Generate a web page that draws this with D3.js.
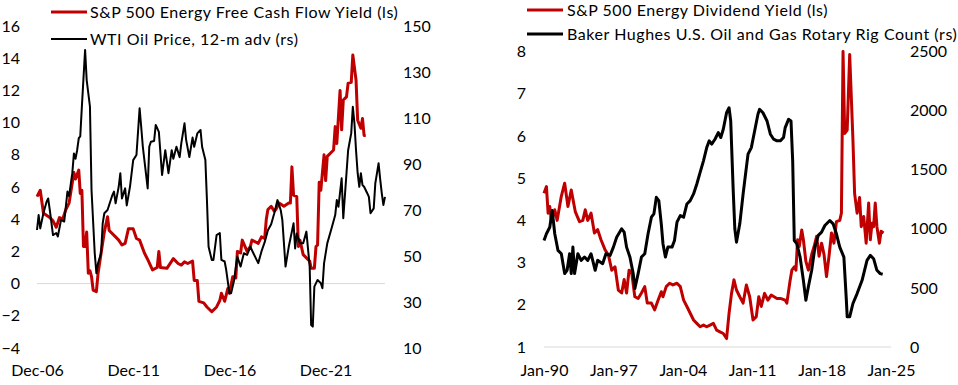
<!DOCTYPE html>
<html><head><meta charset="utf-8">
<script src="https://cdn.jsdelivr.net/npm/d3@7"></script>
<style>
body{margin:0;background:#fff}
svg text{font-family:Lato,"Open Sans",sans-serif;font-size:16px;fill:#000}
svg text.legend{letter-spacing:0.55px}
</style>
</head><body><svg id="c" width="958" height="385"></svg>
<script>
// ---------- Left panel data ----------
const fcfDates=["2006-12","2007-02","2007-04","2007-05","2007-08","2007-10","2007-12","2008-02","2008-04","2008-06",
"2008-08","2008-11","2008-12","2009-02","2009-03","2009-04","2009-05","2009-06","2009-07","2009-08",
"2009-09","2009-10","2009-11","2010-01","2010-02","2010-04","2010-06","2010-08","2010-09","2011-01",
"2011-03","2011-05","2011-07","2011-09","2011-12","2012-02","2012-04","2012-07","2012-09","2012-12",
"2013-03","2013-04","2013-05","2013-09","2014-01","2014-04","2014-06","2014-08","2014-10","2015-01",
"2015-02","2015-04","2015-05","2015-08","2015-10","2016-01","2016-04","2016-06","2016-07","2016-09",
"2016-11","2016-12","2017-02","2017-04","2017-05","2017-07","2017-08","2017-11","2018-01","2018-02",
"2018-06","2018-08","2018-10","2018-11","2018-12","2019-02","2019-04","2019-05","2019-07","2019-10",
"2020-01","2020-02","2020-03","2020-04","2020-06","2020-07","2020-08","2020-10","2020-12","2021-02",
"2021-03","2021-05","2021-06","2021-07","2021-08","2021-09","2021-11","2021-12","2022-01","2022-03",
"2022-05","2022-06","2022-07","2022-09","2022-10","2022-11","2023-01","2023-02","2023-04","2023-05",
"2023-07","2023-08","2023-10","2023-11","2023-12","2024-01"];
const fcfValues=[5.4,5.8,4.4,4.3,4.1,3.9,3.5,4.1,4.0,4.6,
5.0,6.9,6.5,7.05,5.6,5.8,2.3,2.3,3.2,0.65,
0.8,0.43,-0.4,-0.5,0.6,1.9,3.2,4.15,3.3,2.9,
2.7,2.4,2.5,3.4,3.4,2.8,2.7,1.9,1.5,0.85,
1.0,2.0,1.0,0.95,1.55,1.25,1.15,1.35,1.25,1.4,
0.2,0.2,-1.1,-1.2,-1.45,-1.75,-1.45,-1.05,-0.6,-1.1,
-0.3,-0.6,0.43,0.35,2.0,1.9,2.7,2.0,2.3,2.7,
2.5,2.9,2.8,4.0,4.6,4.8,4.5,4.6,5.0,4.8,
5.0,5.0,7.25,5.5,5.4,2.3,2.7,1.8,1.6,1.4,
0.95,0.95,2.3,2.4,6.3,5.8,8.0,6.4,7.9,8.1,
8.3,9.75,8.7,12.0,9.55,11.4,11.6,12.45,12.5,14.2,
12.65,10.15,9.65,10.25,9.2,9.2];

const wtiDates=["2006-12","2007-01","2007-02","2007-04","2007-06","2007-07","2007-08","2007-10","2007-12","2008-01",
"2008-03","2008-05","2008-07","2008-08","2008-10","2008-11","2008-12","2009-01","2009-02","2009-03",
"2009-04","2009-06","2009-07","2009-09","2009-10","2009-12","2010-01","2010-02","2010-04","2010-05",
"2010-06","2010-08","2010-11","2010-12","2011-01","2011-03","2011-04","2011-05","2011-07","2011-08",
"2011-10","2011-12","2012-02","2012-04","2012-05","2012-06","2012-09","2012-10","2012-11","2013-01",
"2013-02","2013-04","2013-06","2013-08","2013-10","2013-12","2014-01","2014-03","2014-05","2014-06",
"2014-08","2014-09","2014-11","2015-01","2015-02","2015-04","2015-06","2015-07","2015-09","2015-10",
"2015-11","2016-01","2016-02","2016-04","2016-06","2016-07","2016-09","2016-10","2016-12","2017-01",
"2017-03","2017-04","2017-05","2017-07","2017-09","2017-11","2018-01","2018-03","2018-05","2018-06",
"2018-08","2018-10","2018-12","2019-02","2019-04","2019-06","2019-08","2019-09","2019-11","2020-01",
"2020-04","2020-05","2020-06","2020-08","2020-10","2020-12","2021-02","2021-03","2021-04","2021-05",
"2021-07","2021-09","2021-10","2021-11","2022-01","2022-04","2022-06","2022-07","2022-08","2022-10",
"2022-11","2023-01","2023-02","2023-04","2023-05","2023-06","2023-07","2023-08","2023-09","2023-10",
"2023-11","2023-12","2024-02","2024-03","2024-04","2024-06","2024-07","2024-09","2024-10","2024-11",
"2024-12","2025-01"];
const wtiValues=[61.3,67.8,62.0,68.6,73.6,75,70,59.1,60,58.5,
65.7,65,78,76,86,94.6,92.3,96,101.2,102,
115,139.6,126.5,115,78.7,51.2,42.5,46.8,51.2,64.2,
68.6,70,76.5,78,72.9,80.1,86,75,79.4,72,
80.1,91.7,93.9,114.2,106.2,97.5,79.4,97.5,99.7,100,
107,104,85.2,96,86,96,92.3,97.5,93,99,
107.7,100.5,93,101.5,97.5,103.3,104.8,97.5,91.7,74.3,
54,48.3,48.3,59.1,60,48.3,47.6,43.9,33.8,33.8,
39.6,45.4,49.7,45.4,51.2,50.5,54,51.2,48.3,46.9,
52,56,61.2,63.8,68.6,74.3,70,65.7,45.4,54,
64.2,53.3,59.8,55.5,55.5,60.6,45.4,20,19.3,36.7,
39.6,38.2,36,46.8,55.5,62.7,67.8,74.3,71.4,83.8,
66.4,86,96,103.4,114.9,107.7,96,86,80.1,86,
80.8,80.1,77.2,75.7,68.6,70.7,81.6,90.3,83.5,77.2,
72.2,75.7];

// ---------- Right panel data ----------
const divDates=["1990-01","1990-04","1990-06","1990-08","1990-10","1991-02","1991-05","1991-10","1992-02","1992-06",
"1992-10","1993-03","1993-08","1993-12","1994-03","1994-06","1994-10","1995-02","1995-06","1995-10",
"1996-03","1996-07","1996-11","1997-03","1997-07","1997-11","1998-02","1998-05","1998-08","1998-11",
"1999-03","1999-07","1999-11","2000-03","2000-06","2000-11","2001-03","2001-07","2001-11","2002-01",
"2002-05","2002-09","2003-01","2003-06","2003-10","2004-02","2004-06","2004-10","2005-02","2005-06",
"2005-10","2006-02","2006-06","2006-10","2007-02","2007-06","2007-10","2008-02","2008-06","2008-09",
"2008-12","2009-03","2009-06","2009-10","2010-02","2010-06","2010-10","2011-02","2011-06","2011-09",
"2011-12","2012-04","2012-08","2012-12","2013-07","2013-11","2014-05","2014-07","2014-11","2015-01",
"2015-04","2015-06","2015-08","2015-10","2016-01","2016-03","2016-06","2016-09","2017-01","2017-04",
"2017-07","2017-10","2018-01","2018-04","2018-07","2018-10","2019-01","2019-04","2019-07","2019-11",
"2020-01","2020-03","2020-05","2020-08","2020-11","2021-03","2021-05","2021-08","2021-11","2022-01",
"2022-04","2022-07","2022-10","2022-12","2023-02","2023-04","2023-06","2023-08","2023-11","2024-01",
"2024-04"];
const divValues=[4.64,4.8,4.17,4.33,3.97,4.25,4.0,4.57,4.88,4.33,
4.72,4.2,3.97,4.0,4.25,4.0,4.17,3.7,3.78,3.54,
3.3,3.18,2.82,2.9,2.35,2.28,2.6,2.28,2.82,2.78,
2.19,2.15,2.28,2.43,2.04,2.04,1.88,2.1,2.31,2.19,
2.43,2.51,2.47,2.51,2.43,2.11,1.96,1.8,1.64,1.56,
1.48,1.52,1.48,1.52,1.56,1.4,1.36,1.32,1.2,1.8,
2.27,2.59,2.35,2.19,2.04,2.47,2.19,1.64,1.72,2.19,
1.96,2.27,2.11,2.23,2.15,2.15,2.11,2.04,2.59,2.82,
2.9,2.82,3.54,3.38,3.77,3.54,3.03,2.82,3.19,3.38,
3.62,3.15,3.46,3.19,2.67,3.15,3.7,3.46,3.97,4.0,
4.17,8.0,6.06,6.14,7.93,5.9,4.64,4.17,4.54,3.85,
4.09,3.46,4.41,3.54,3.93,3.85,4.41,3.85,3.46,3.74,
3.7];

const rigDates=["1990-01","1990-04","1990-08","1990-11","1991-02","1991-06","1991-10","1992-02","1992-05","1992-08",
"1992-10","1992-12","1993-02","1993-06","1993-10","1994-02","1994-06","1994-10","1995-03","1995-06",
"1995-12","1996-04","1996-09","1997-01","1997-05","1997-11","1998-02","1998-05","1998-09","1999-01",
"1999-03","1999-07","1999-11","2000-03","2000-07","2000-11","2001-02","2001-05","2001-08","2001-11",
"2002-01","2002-04","2002-07","2002-12","2003-03","2003-06","2003-10","2004-02","2004-06","2004-10",
"2005-02","2005-06","2005-10","2006-02","2006-06","2006-09","2006-12","2007-04","2007-08","2007-11",
"2008-02","2008-06","2008-09","2008-11","2009-02","2009-04","2009-06","2009-10","2010-02","2010-05",
"2010-08","2010-12","2011-04","2011-08","2011-10","2012-02","2012-07","2012-11","2013-03","2013-07",
"2013-11","2014-03","2014-05","2014-09","2014-12","2015-02","2015-04","2015-07","2015-11","2016-03",
"2016-06","2016-09","2017-01","2017-05","2017-09","2018-01","2018-05","2018-11","2019-03","2019-07",
"2019-11","2020-04","2020-07","2020-08","2020-11","2021-03","2021-08","2022-02","2022-08","2022-12",
"2023-04","2023-08","2023-12","2024-03"];
const rigValues=[901,958,1013,1154,958,817,789,621,649,789,
621,845,621,789,733,761,733,789,649,733,
705,789,775,845,929,1000,972,845,761,621,
494,621,761,789,958,1098,1126,1266,1238,1040,
874,761,845,845,901,1056,1112,1098,1210,1238,
1295,1379,1477,1575,1687,1744,1716,1758,1814,1772,
1842,1982,2024,1912,1323,1000,887,1042,1295,1463,
1632,1687,1828,1969,2011,1982,1912,1800,1758,1744,
1744,1772,1856,1926,1912,1575,901,874,761,564,
396,509,649,845,944,972,1028,1070,1042,958,
845,761,396,255,255,368,452,564,733,775,
747,649,621,615];

// ---------- Axis ticks ----------
const fcfTicks=[-4,-2,0,2,4,6,8,10,12,14,16];
const wtiTicks=[10,30,50,70,90,110,130,150];
const leftXTicks=["2006-12","2011-12","2016-12","2021-12"];
const divTicks=[1,2,3,4,5,6,7,8];
const rigTicks=[0,500,1000,1500,2000,2500];
const rightXTicks=["1990-01","1997-01","2004-01","2011-01","2018-01","2025-01"];

// ---------- Legend labels ----------
const leftLegend=["S&P 500 Energy Free Cash Flow Yield (ls)","WTI Oil Price, 12-m adv (rs)"];
const rightLegend=["S&P 500 Energy Dividend Yield (ls)","Baker Hughes U.S. Oil and Gas Rotary Rig Count (rs)"];

const RED="#C00000", BLACK="#000000", GRID="#d9d9d9";
const parse=d3.timeParse("%Y-%m");
const fmt=d3.timeFormat("%b-%y");
const numFmt=d3.format("d");
const svg=d3.select("#c");

function panel(o){
  const g=svg.append("g");
  const x=d3.scaleTime().domain(o.xDomain.map(parse)).range(o.xRange);
  const yL=d3.scaleLinear().domain(o.yLDomain).range(o.yRange);
  const yR=d3.scaleLinear().domain(o.yRDomain).range(o.yRange);

  g.append("line").attr("x1",o.xRange[0]).attr("x2",o.xRange[1])
    .attr("y1",yL(o.baseVal)).attr("y2",yL(o.baseVal))
    .attr("stroke",GRID).attr("stroke-width",1);

  const ax1=g.append("g").attr("transform",`translate(${o.leftLabelX},0)`)
    .call(d3.axisLeft(yL).tickValues(o.lTicks).tickFormat(numFmt).tickSize(0).tickPadding(0));
  const ax2=g.append("g").attr("transform",`translate(${o.rightLabelX},0)`)
    .call(d3.axisRight(yR).tickValues(o.rTicks).tickFormat(numFmt).tickSize(0).tickPadding(0));
  const ax3=g.append("g").attr("transform",`translate(0,${o.xLabelY})`)
    .call(d3.axisBottom(x).tickValues(o.xTicks.map(parse)).tickFormat(fmt).tickSize(0).tickPadding(0));
  [ax1,ax2,ax3].forEach(a=>{a.select(".domain").remove();a.attr("font-family",null).attr("font-size",null);
    a.selectAll("text").attr("fill","#000");});

  const s1=o.s1Dates.map((d,i)=>({d:parse(d),v:o.s1Values[i]}));
  const s2=o.s2Dates.map((d,i)=>({d:parse(d),v:o.s2Values[i]}));
  g.append("path").datum(s1).attr("fill","none").attr("stroke",RED).attr("stroke-width",o.w1)
    .attr("stroke-linejoin","round")
    .attr("d",d3.line().x(d=>x(d.d)).y(d=>yL(d.v)));
  g.append("path").datum(s2).attr("fill","none").attr("stroke",BLACK).attr("stroke-width",o.w2)
    .attr("stroke-linejoin","round")
    .attr("d",d3.line().x(d=>x(d.d)).y(d=>yR(d.v)));

  const cols=[RED,BLACK], ws=[o.w1,o.w2];
  o.legend.forEach((t,i)=>{
    const ly=o.legendY[i];
    g.append("line").attr("x1",o.legendX[0]).attr("x2",o.legendX[1]).attr("y1",ly).attr("y2",ly)
      .attr("stroke",cols[i]).attr("stroke-width",ws[i]);
    g.append("text").attr("class","legend").attr("x",o.legendX[2]).attr("y",ly).attr("dy","0.36em").text(t);
  });
}

panel({xDomain:["2006-12","2025-01"],xRange:[37,385],
  yLDomain:[-4,16],yRDomain:[10,150],yRange:[348,26],baseVal:0,
  leftLabelX:20,rightLabelX:403,xLabelY:365,
  lTicks:fcfTicks,rTicks:wtiTicks,xTicks:leftXTicks,
  s1Dates:fcfDates,s1Values:fcfValues,s2Dates:wtiDates,s2Values:wtiValues,w1:3,w2:2,
  legend:leftLegend,legendX:[51,87,90],legendY:[12,39]});

panel({xDomain:["1990-01","2025-01"],xRange:[544,891],
  yLDomain:[1,8],yRDomain:[0,2500],yRange:[347,51.5],baseVal:1,
  leftLabelX:526,rightLabelX:910,xLabelY:365,
  lTicks:divTicks,rTicks:rigTicks,xTicks:rightXTicks,
  s1Dates:divDates,s1Values:divValues,s2Dates:rigDates,s2Values:rigValues,w1:3,w2:3,
  legend:rightLegend,legendX:[527,563,567],legendY:[10,34]});
</script>
</body></html>
